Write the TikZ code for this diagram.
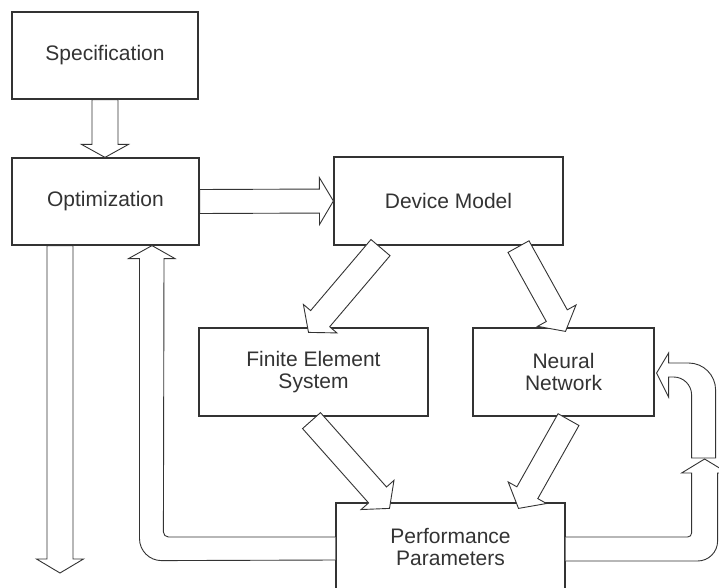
\documentclass[tikz,border=0pt]{standalone}
\usepackage{fontspec}
\setmainfont{Liberation Sans}
\usetikzlibrary{calc}
\definecolor{ink}{gray}{0.2}
\newcommand{\blockarrow}[5]{%
  \coordinate (ba-s) at (#1);
  \coordinate (ba-e) at (#2);
  \coordinate (ba-b) at ($(ba-e)!#5!(ba-s)$);
  \draw[hollow] ($(ba-s)!#3!90:(ba-e)$) -- ($(ba-b)!#3!90:(ba-e)$) -- ($(ba-b)!#4!90:(ba-e)$)
    -- (ba-e) -- ($(ba-b)!#4!-90:(ba-e)$) -- ($(ba-b)!#3!-90:(ba-e)$) -- ($(ba-s)!#3!-90:(ba-e)$) -- cycle;}

\begin{document}
\begin{tikzpicture}[x=1pt,y=1pt]
    \tikzset{box/.style={draw=ink,line width=1.2pt,fill=white,inner sep=0pt,align=center,text=ink,
               font=\fontsize{21}{21.5}\selectfont},
             hollow/.style={draw=ink,line width=0.9pt,fill=white}}
    \clip (0,0) rectangle (719,587);
    \fill[white] (0,0) rectangle (719,587);
    \node[box,minimum width=186pt,minimum height=87pt] (spec) at (105,531.5) {Specification};
    \node[box,minimum width=187pt,minimum height=87pt] (opt) at (105.5,385.5) {Optimization};
    \node[box,minimum width=229pt,minimum height=88pt] (dev) at (448.5,386) {Device Model};
    \node[box,minimum width=229pt,minimum height=88pt] (fem) at (313.5,215) {Finite Element\\System};
    \node[box,minimum width=181pt,minimum height=88pt] (nn) at (563.5,215) {Neural\\Network};
    \node[box,minimum width=229pt,minimum height=88pt] (perf) at (450.5,40) {Performance\\Parameters};
    \coordinate (exit) at (60,14);
    \blockarrow{spec.south}{spec.south |- opt.north}{13pt}{23.5pt}{13pt}
    \blockarrow{opt.east}{dev.west}{12pt}{23.5pt}{14pt}
    \blockarrow{$(dev.south)+(-68,-2)$}{$(fem.north)+(-5,-5)$}{12.5pt}{22pt}{18pt}
    \blockarrow{$(dev.south)+(70,-1)$}{$(nn.north)+(2,-4)$}{12pt}{22pt}{18pt}
    \blockarrow{$(fem.south)+(-2,-4)$}{$(perf.north)+(-61,-6)$}{12pt}{22pt}{18pt}
    \blockarrow{$(nn.south)+(5,-3)$}{$(perf.north)+(68,-6)$}{12pt}{22pt}{18pt}
    \blockarrow{$(opt.south)+(-45.5,0)$}{exit}{13pt}{23.5pt}{14pt}
    \draw[hollow] ($(perf.west)+(0,10)$) -- ++(-167,0) arc[start angle=270,end angle=180,radius=5]
        -- ($(opt.south)+(58.5,-13)$) -- ++(11,0) -- ($(opt.south)+(46.5,0)$) -- ++(-23.5,-13) -- ++(11,0)
        -- ++(0,-280) arc[start angle=180,end angle=270,radius=22] -- ($(perf.west)+(0,-13)$);
    \draw[hollow] ($(nn.east)+(37,-86)$) -- ++(0,63) arc[start angle=0,end angle=90,radius=18]
        -- ++(-5,0) -- ++(0,-20) -- ($(nn.east)+(2,-1)$) -- ++(12,20) -- ++(0,-10) -- ++(20,0)
        arc[start angle=90,end angle=0,radius=27] -- ++(0,-68) -- cycle;
    \draw[hollow] ($(perf.east)+(0,10)$) -- ++(122,0) arc[start angle=270,end angle=360,radius=4]
        -- ++(0,60) -- ++(-10,0) -- ++(23,14) -- ++(23,-14) -- ++(-10,0) -- ++(0,-68)
        arc[start angle=0,end angle=-90,radius=20] -- ($(perf.east)+(0,-14)$);
\end{tikzpicture}
\end{document}
